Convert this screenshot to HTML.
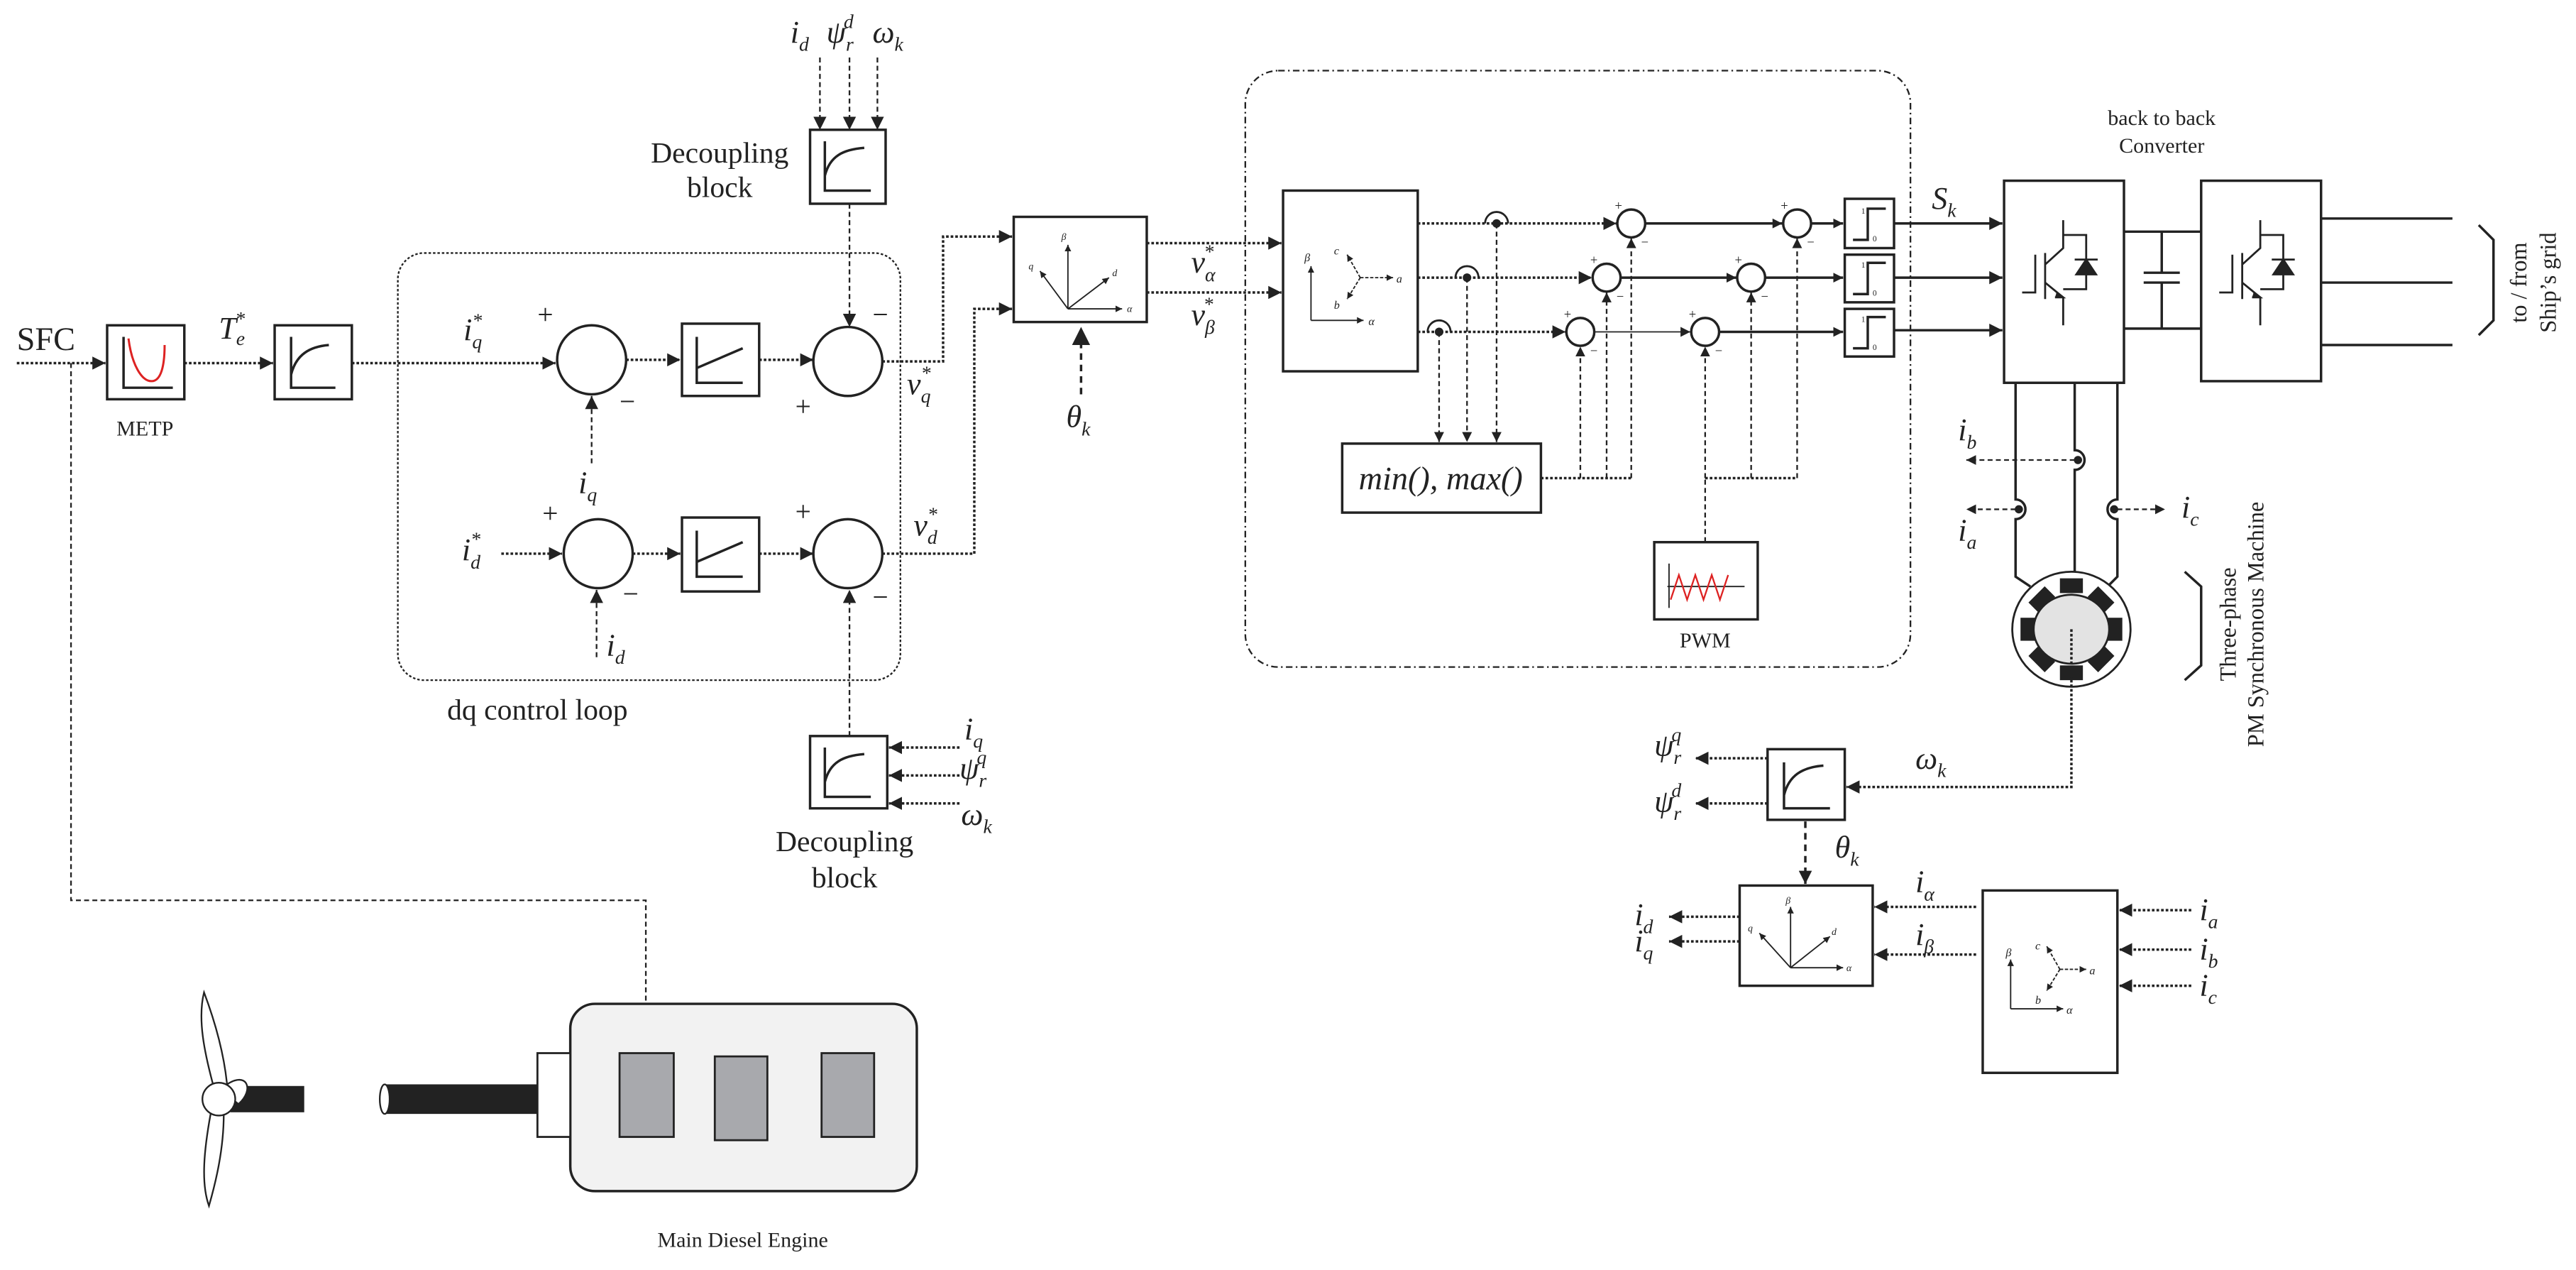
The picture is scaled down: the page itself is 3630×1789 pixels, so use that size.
<!DOCTYPE html>
<html><head><meta charset="utf-8"><style>
html,body{margin:0;padding:0;background:#fff;}
svg{display:block;}
text{font-family:"Liberation Serif",serif;fill:#222;}
.m{font-style:italic;font-size:19px;}
.s{font-size:12px;}
.bx{fill:#fff;stroke:#222;stroke-width:1.5;}
.dt{fill:none;stroke:#222;stroke-width:1.5;stroke-dasharray:1.6 1.2;}
.ds{fill:none;stroke:#222;stroke-width:1;stroke-dasharray:3 2;}
.ln{fill:none;stroke:#222;stroke-width:1.5;}
</style></head><body>
<svg width="3630" height="1789" viewBox="0 0 1568 773" xmlns="http://www.w3.org/2000/svg">
<defs>
<marker id="a" viewBox="0 0 10 10" refX="10" refY="5" markerWidth="8" markerHeight="8" markerUnits="userSpaceOnUse" orient="auto"><path d="M0,0L10,5L0,10z" fill="#222"/></marker>
<marker id="b" viewBox="0 0 10 10" refX="10" refY="5" markerWidth="6" markerHeight="6" markerUnits="userSpaceOnUse" orient="auto"><path d="M0,0L10,5L0,10z" fill="#222"/></marker>
<marker id="c" viewBox="0 0 10 10" refX="10" refY="5" markerWidth="4" markerHeight="4" markerUnits="userSpaceOnUse" orient="auto"><path d="M0,0L10,5L0,10z" fill="#222"/></marker>
<marker id="d" viewBox="0 0 10 10" refX="10" refY="5" markerWidth="11" markerHeight="11" markerUnits="userSpaceOnUse" orient="auto"><path d="M0,0L10,5L0,10z" fill="#222"/></marker>
</defs>

<text x="10" y="213" font-size="20">SFC</text>
<path class="dt" d="M10,221H64" marker-end="url(#a)"/>
<path class="ds" d="M43,221V548H393V611" stroke-dasharray="2 1.5"/>
<rect class="bx" x="65" y="198" width="47" height="45"/>
<path class="ln" d="M75,205V236H105" stroke-width="1"/>
<path d="M78,206C80,222 86,232 92,232C98,232 100,222 100,210" fill="none" stroke="#d22" stroke-width="1.3"/>
<text x="88" y="265" font-size="13" text-anchor="middle">METP</text>
<path class="dt" d="M112,221H166" marker-end="url(#a)"/>
<text class="m" x="133" y="206">T<tspan class="s" dy="4">e</tspan><tspan class="s" dx="-6" dy="-12">*</tspan></text>
<rect class="bx" x="167" y="198" width="47" height="45"/>
<path class="ln" d="M177,205V236H204M177,228C180,216 188,211 200,210" stroke-width="1"/>

<rect x="242" y="154" width="306" height="260" rx="16" fill="none" stroke="#222" stroke-width="1" stroke-dasharray="1.5 1.2"/>
<text x="327" y="438" font-size="18" text-anchor="middle">dq control loop</text>
<path class="dt" d="M214,221H338" marker-end="url(#a)"/>
<text class="m" x="282" y="207">i<tspan class="s" dy="5">q</tspan><tspan class="s" dx="-6" dy="-13">*</tspan></text>
<circle cx="360" cy="219" r="21" class="bx"/>
<text x="327" y="197" font-size="17">+</text><text x="377" y="250" font-size="17">−</text>
<path class="ds" d="M360,282V241" marker-end="url(#a)"/>
<text class="m" x="352" y="300">i<tspan class="s" dy="5">q</tspan></text>
<path class="dt" d="M381,219H414" marker-end="url(#a)"/>
<rect class="bx" x="415" y="197" width="47" height="44"/>
<path class="ln" d="M424,205V233H452M424,224L452,212" stroke-width="1"/>
<path class="dt" d="M462,219H495" marker-end="url(#a)"/>
<circle cx="516" cy="220" r="21" class="bx"/>
<text x="531" y="197" font-size="17">−</text><text x="484" y="253" font-size="17">+</text>

<rect class="bx" x="493" y="79" width="46" height="45"/>
<path class="ln" d="M502,86V116H530M502,107C505,95 513,91 526,90" stroke-width="1"/>
<text x="438" y="99" font-size="18" text-anchor="middle">Decoupling</text>
<text x="438" y="120" font-size="18" text-anchor="middle">block</text>
<path class="ds" d="M499,35V79" marker-end="url(#a)"/><path class="ds" d="M517,35V79" marker-end="url(#a)"/><path class="ds" d="M534,35V79" marker-end="url(#a)"/>
<text class="m" x="481" y="26">i<tspan class="s" dy="5">d</tspan></text>
<text class="m" x="503" y="26">ψ<tspan class="s" dy="5">r</tspan><tspan class="s" dx="-6" dy="-14">d</tspan></text>
<text class="m" x="531" y="26">ω<tspan class="s" dy="5">k</tspan></text>
<path class="ds" d="M517,124V199" marker-end="url(#a)"/>
<path class="dt" d="M537,220H574V144H616" marker-end="url(#a)"/>
<text class="m" x="552" y="240">v<tspan class="s" dy="5">q</tspan><tspan class="s" dx="-6" dy="-14">*</tspan></text>

<text class="m" x="281" y="341">i<tspan class="s" dy="5">d</tspan><tspan class="s" dx="-6" dy="-14">*</tspan></text>
<path class="dt" d="M305,337H342" marker-end="url(#a)"/>
<circle cx="364" cy="337" r="21" class="bx"/>
<text x="330" y="318" font-size="17">+</text><text x="379" y="367" font-size="17">−</text>
<path class="ds" d="M363,400V359" marker-end="url(#a)"/>
<text class="m" x="369" y="399">i<tspan class="s" dy="5">d</tspan></text>
<path class="dt" d="M385,337H414" marker-end="url(#a)"/>
<rect class="bx" x="415" y="315" width="47" height="45"/>
<path class="ln" d="M424,323V351H452M424,342L452,330" stroke-width="1"/>
<path class="dt" d="M462,337H495" marker-end="url(#a)"/>
<circle cx="516" cy="337" r="21" class="bx"/>
<text x="484" y="317" font-size="17">+</text><text x="531" y="369" font-size="17">−</text>
<path class="dt" d="M537,337H593V188H616" marker-end="url(#a)"/>
<text class="m" x="556" y="326">v<tspan class="s" dy="5">d</tspan><tspan class="s" dx="-6" dy="-14">*</tspan></text>

<rect class="bx" x="493" y="448" width="47" height="44"/>
<path class="ln" d="M502,455V485H530M502,476C505,464 513,460 526,459" stroke-width="1"/>
<path class="ds" d="M517,448V359" marker-end="url(#a)"/>
<path class="dt" d="M584,455H541" marker-end="url(#a)"/>
<path class="dt" d="M584,472H541" marker-end="url(#a)"/>
<path class="dt" d="M584,489H541" marker-end="url(#a)"/>
<text class="m" x="587" y="450">i<tspan class="s" dy="5">q</tspan></text>
<text class="m" x="584" y="474">ψ<tspan class="s" dy="5">r</tspan><tspan class="s" dx="-6" dy="-14">q</tspan></text>
<text class="m" x="585" y="502">ω<tspan class="s" dy="5">k</tspan></text>
<text x="514" y="518" font-size="18" text-anchor="middle">Decoupling</text>
<text x="514" y="540" font-size="18" text-anchor="middle">block</text>

<rect class="bx" x="617" y="132" width="81" height="64"/>
<g stroke="#222" stroke-width="0.8" fill="none">
<path d="M650,188V149" marker-end="url(#c)"/><path d="M650,188H683" marker-end="url(#c)"/>
<path d="M650,188L633,165" marker-end="url(#c)"/><path d="M650,188L675,169" marker-end="url(#c)"/></g>
<g font-size="6" font-style="italic"><text x="646" y="146">β</text><text x="686" y="190">α</text><text x="626" y="164">q</text><text x="677" y="168">d</text></g>
<path d="M658,240V199" stroke="#222" stroke-width="1.5" stroke-dasharray="4 3" marker-end="url(#d)"/>
<text class="m" x="649" y="260">θ<tspan class="s" dy="5">k</tspan></text>
<path class="dt" d="M698,148H780" marker-end="url(#a)"/>
<path class="dt" d="M698,178H780" marker-end="url(#a)"/>
<text class="m" x="725" y="166">v<tspan class="s" dy="5">α</tspan><tspan class="s" dx="-7" dy="-14">*</tspan></text>
<text class="m" x="725" y="198">v<tspan class="s" dy="5">β</tspan><tspan class="s" dx="-7" dy="-14">*</tspan></text>

<rect x="758" y="43" width="405" height="363" rx="20" fill="none" stroke="#222" stroke-width="1" stroke-dasharray="4 2 1 2"/>
<rect class="bx" x="781" y="116" width="82" height="110"/>
<g stroke="#222" stroke-width="0.8" fill="none">
<path d="M798,195V162" marker-end="url(#c)"/><path d="M798,195H830" marker-end="url(#c)"/>
<path d="M828,169H848" stroke-dasharray="2 1" marker-end="url(#c)"/><path d="M828,169L820,155" stroke-dasharray="2 1" marker-end="url(#c)"/><path d="M828,169L820,182" stroke-dasharray="2 1" marker-end="url(#c)"/></g>
<g font-size="7" font-style="italic"><text x="794" y="159">β</text><text x="833" y="198">α</text><text x="812" y="155">c</text><text x="812" y="188">b</text><text x="850" y="172">a</text></g>
<path class="dt" d="M863,136H984" marker-end="url(#a)"/>
<path class="dt" d="M863,169H969" marker-end="url(#a)"/>
<path class="dt" d="M863,202H953" marker-end="url(#a)"/>
<g fill="#222"><circle cx="911" cy="136" r="2.6"/><circle cx="893" cy="169" r="2.6"/><circle cx="876" cy="202" r="2.6"/></g>
<g fill="none" stroke="#222" stroke-width="1.2"><path d="M904,136A7,7 0 0 1 918,136"/><path d="M886,169A7,7 0 0 1 900,169"/><path d="M869,202A7,7 0 0 1 883,202"/></g>
<path class="ds" d="M911,136V269" marker-end="url(#b)"/>
<path class="ds" d="M893,169V269" marker-end="url(#b)"/>
<path class="ds" d="M876,202V269" marker-end="url(#b)"/>
<rect class="bx" x="817" y="270" width="121" height="42"/>
<text x="877" y="298" font-size="20" font-style="italic" text-anchor="middle">min(), max()</text>
<path class="dt" d="M938,291H993"/>
<path class="ds" d="M962,291V211" marker-end="url(#b)"/>
<path class="ds" d="M978,291V178" marker-end="url(#b)"/>
<path class="ds" d="M993,291V145" marker-end="url(#b)"/>
<path class="ds" d="M1038,330V291"/><path class="dt" d="M1038,291H1094"/>
<path class="ds" d="M1038,291V211" marker-end="url(#b)"/>
<path class="ds" d="M1066,291V178" marker-end="url(#b)"/>
<path class="ds" d="M1094,291V145" marker-end="url(#b)"/>
<g class="bx" stroke-width="1.2"><circle cx="993" cy="136" r="8.5"/><circle cx="1094" cy="136" r="8.5"/><circle cx="978" cy="169" r="8.5"/><circle cx="1066" cy="169" r="8.5"/><circle cx="962" cy="202" r="8.5"/><circle cx="1038" cy="202" r="8.5"/></g>
<g font-size="8"><text x="983" y="128">+</text><text x="999" y="150">−</text><text x="1084" y="128">+</text><text x="1100" y="150">−</text>
<text x="968" y="161">+</text><text x="984" y="183">−</text><text x="1056" y="161">+</text><text x="1072" y="183">−</text>
<text x="952" y="194">+</text><text x="968" y="216">−</text><text x="1028" y="194">+</text><text x="1044" y="216">−</text></g>
<g class="ln" stroke-width="1.3">
<path d="M1001.5,136H1085" marker-end="url(#b)"/><path d="M986.5,169H1057" marker-end="url(#b)"/><path d="M970.5,202H1029" marker-end="url(#b)" stroke-width="0.8"/>
<path d="M1102.5,136H1122" marker-end="url(#b)"/><path d="M1074.5,169H1122" marker-end="url(#b)"/><path d="M1046.5,202H1122" marker-end="url(#b)"/></g>
<g class="bx"><rect x="1123" y="121" width="30" height="30"/><rect x="1123" y="155" width="30" height="29"/><rect x="1123" y="188" width="30" height="29"/></g>
<g class="ln" stroke-width="1.2"><path d="M1128,146H1137V127H1148"/><path d="M1128,179H1137V160H1148"/><path d="M1128,212H1137V193H1148"/></g>
<g font-size="5"><text x="1133" y="130">1</text><text x="1140" y="147">0</text><text x="1133" y="163">1</text><text x="1140" y="180">0</text><text x="1133" y="196">1</text><text x="1140" y="213">0</text></g>
<rect class="bx" x="1007" y="330" width="63" height="47"/>
<path d="M1016,343V370M1015,357H1062" stroke="#222" stroke-width="0.8" fill="none"/>
<path d="M1017,365L1022,350L1027,365L1032,350L1037,365L1042,350L1047,365L1052,350" fill="none" stroke="#d22" stroke-width="1"/>
<text x="1038" y="394" font-size="13" text-anchor="middle">PWM</text>

<path class="ln" d="M1153,136H1219" marker-end="url(#a)" stroke-width="1"/>
<path class="ln" d="M1153,169H1219" marker-end="url(#a)" stroke-width="1"/>
<path class="ln" d="M1153,201H1219" marker-end="url(#a)" stroke-width="1"/>
<text class="m" x="1176" y="127">S<tspan class="s" dy="5">k</tspan></text>
<text x="1316" y="76" font-size="13" text-anchor="middle">back to back</text>
<text x="1316" y="93" font-size="13" text-anchor="middle">Converter</text>
<rect class="bx" x="1220" y="110" width="73" height="123"/>
<rect class="bx" x="1340" y="110" width="73" height="122"/>
<g id="igbt" fill="none" stroke="#222" stroke-width="1.2">
<path d="M1231,178H1239V155M1245,154V182M1256,134V151L1245,161M1245,172L1256,181V198M1256,143H1270V176H1256"/>
<path d="M1252,178L1256,181L1251,181" fill="#222"/>
<path d="M1264,167L1276,167L1270,158Z" fill="#222"/><path d="M1263,158H1277"/>
</g>
<use href="#igbt" x="120"/>
<path class="ln" d="M1293,141H1340M1293,200H1340M1316,141V166M1316,172V200M1305,166H1327M1305,172H1327" stroke-width="1.2"/>
<path class="ln" d="M1413,133H1493M1413,172H1493M1413,210H1493" stroke-width="1.2"/>
<path class="ln" d="M1509,137L1518,146V195L1509,204" stroke-width="1.2"/>
<text font-size="14" transform="translate(1538,172) rotate(-90)" text-anchor="middle">to / from</text>
<text font-size="14" transform="translate(1556,172) rotate(-90)" text-anchor="middle">Ship’s grid</text>

<g class="ln" stroke-width="1.2">
<path d="M1227,233V304A6,6 0 0 1 1227,316V351L1236,357"/>
<path d="M1263,233V274A6,6 0 0 1 1263,286V360"/>
<path d="M1289,233V304A6,6 0 0 0 1289,316V351L1283,357"/>
</g>
<g fill="#222"><circle cx="1229" cy="310" r="2.5"/><circle cx="1265" cy="280" r="2.5"/><circle cx="1287" cy="310" r="2.5"/></g>
<path class="ds" d="M1263,280H1197" marker-end="url(#b)"/>
<path class="ds" d="M1227,310H1197" marker-end="url(#b)"/>
<path class="ds" d="M1289,310H1318" marker-end="url(#b)"/>
<text class="m" x="1192" y="268">i<tspan class="s" dy="5">b</tspan></text>
<text class="m" x="1192" y="329">i<tspan class="s" dy="5">a</tspan></text>
<text class="m" x="1328" y="315">i<tspan class="s" dy="5">c</tspan></text>
<ellipse cx="1261" cy="383" rx="36" ry="35" fill="#fff" stroke="#222" stroke-width="1.2"/>
<g transform="translate(1261,383)" fill="#222">
<rect x="-7" y="-31" width="14" height="9"/><rect x="-7" y="22" width="14" height="9"/>
<rect x="-31" y="-7" width="9" height="14"/><rect x="22" y="-7" width="9" height="14"/>
<rect x="-7" y="-30" width="14" height="9" transform="rotate(45)"/><rect x="-7" y="-30" width="14" height="9" transform="rotate(135)"/>
<rect x="-7" y="-30" width="14" height="9" transform="rotate(225)"/><rect x="-7" y="-30" width="14" height="9" transform="rotate(315)"/>
</g>
<ellipse cx="1261" cy="383" rx="23" ry="21" fill="#e3e3e3" stroke="#222" stroke-width="1.2"/>
<path class="ln" d="M1330,348L1340,357V405L1330,414" stroke-width="1.2"/>
<text font-size="14" transform="translate(1361,380) rotate(-90)" text-anchor="middle">Three-phase</text>
<text font-size="14" transform="translate(1378,380) rotate(-90)" text-anchor="middle">PM Synchronous Machine</text>

<path class="dt" d="M1261,383V479H1124" marker-end="url(#a)"/>
<text class="m" x="1166" y="468">ω<tspan class="s" dy="5">k</tspan></text>
<rect class="bx" x="1076" y="456" width="47" height="43"/>
<path class="ln" d="M1086,464V492H1114M1086,484C1089,472 1097,467 1110,466" stroke-width="1.2"/>
<path class="dt" d="M1076,461.5H1032" marker-end="url(#a)"/>
<path class="dt" d="M1076,489H1032" marker-end="url(#a)"/>
<text class="m" x="1007" y="460">ψ<tspan class="s" dy="5">r</tspan><tspan class="s" dx="-6" dy="-14">q</tspan></text>
<text class="m" x="1007" y="494">ψ<tspan class="s" dy="5">r</tspan><tspan class="s" dx="-6" dy="-14">d</tspan></text>
<path d="M1099,500V538" stroke="#222" stroke-width="1.5" stroke-dasharray="4 3" marker-end="url(#a)"/>
<text class="m" x="1117" y="522">θ<tspan class="s" dy="5">k</tspan></text>
<rect class="bx" x="1059" y="539" width="81" height="61"/>
<g stroke="#222" stroke-width="0.8" fill="none">
<path d="M1090,589V552" marker-end="url(#c)"/><path d="M1090,589H1122" marker-end="url(#c)"/>
<path d="M1090,589L1071,568" marker-end="url(#c)"/><path d="M1090,589L1114,570" marker-end="url(#c)"/></g>
<g font-size="6" font-style="italic"><text x="1087" y="550">β</text><text x="1124" y="591">α</text><text x="1064" y="567">q</text><text x="1115" y="569">d</text></g>
<path class="dt" d="M1059,558H1016" marker-end="url(#a)"/>
<path class="dt" d="M1059,573H1016" marker-end="url(#a)"/>
<text class="m" x="995" y="563">i<tspan class="s" dy="5">d</tspan></text>
<text class="m" x="995" y="579">i<tspan class="s" dy="5">q</tspan></text>
<path class="dt" d="M1203,552H1141" marker-end="url(#a)"/>
<path class="dt" d="M1203,581H1141" marker-end="url(#a)"/>
<text class="m" x="1166" y="543">i<tspan class="s" dy="5">α</tspan></text>
<text class="m" x="1166" y="575">i<tspan class="s" dy="5">β</tspan></text>
<rect class="bx" x="1207" y="542" width="82" height="111"/>
<g stroke="#222" stroke-width="0.8" fill="none">
<path d="M1224,614V584" marker-end="url(#c)"/><path d="M1224,614H1256" marker-end="url(#c)"/>
<path d="M1254,590H1270" stroke-dasharray="2 1" marker-end="url(#c)"/><path d="M1254,590L1246,576" stroke-dasharray="2 1" marker-end="url(#c)"/><path d="M1254,590L1246,603" stroke-dasharray="2 1" marker-end="url(#c)"/></g>
<g font-size="7" font-style="italic"><text x="1221" y="582">β</text><text x="1258" y="617">α</text><text x="1239" y="578">c</text><text x="1239" y="611">b</text><text x="1272" y="593">a</text></g>
<path class="dt" d="M1334,554H1290" marker-end="url(#a)"/>
<path class="dt" d="M1334,578H1290" marker-end="url(#a)"/>
<path class="dt" d="M1334,600H1290" marker-end="url(#a)"/>
<text class="m" x="1339" y="560">i<tspan class="s" dy="5">a</tspan></text>
<text class="m" x="1339" y="584">i<tspan class="s" dy="5">b</tspan></text>
<text class="m" x="1339" y="606">i<tspan class="s" dy="5">c</tspan></text>

<rect x="347" y="611" width="211" height="114" rx="15" fill="#f2f2f2" stroke="#222" stroke-width="1.5"/>
<rect x="327" y="641" width="20" height="51" fill="#fff" stroke="#222" stroke-width="1.2"/>
<g fill="#a8a9ad" stroke="#222" stroke-width="1.2"><rect x="377" y="641" width="33" height="51"/><rect x="435" y="643" width="32" height="51"/><rect x="500" y="641" width="32" height="51"/></g>
<rect x="234" y="660" width="93" height="18" fill="#222"/>
<ellipse cx="234" cy="669" rx="3" ry="9" fill="#fff" stroke="#222" stroke-width="1"/>
<text x="452" y="759" font-size="13" text-anchor="middle">Main Diesel Engine</text>
<rect x="140" y="661" width="45" height="16" fill="#222"/>
<path d="M124,604C120,620 124,640 130,662L138,660C136,640 130,620 124,604Z" fill="#fff" stroke="#222" stroke-width="1"/>
<path d="M128,678C124,700 122,720 127,734C131,720 136,700 136,678Z" fill="#fff" stroke="#222" stroke-width="1"/>
<path d="M138,660C150,652 155,663 145,672L140,668Z" fill="#fff" stroke="#222" stroke-width="1"/>
<ellipse cx="133" cy="669" rx="10" ry="10" fill="#fff" stroke="#222" stroke-width="1"/>
</svg>
</body></html>
